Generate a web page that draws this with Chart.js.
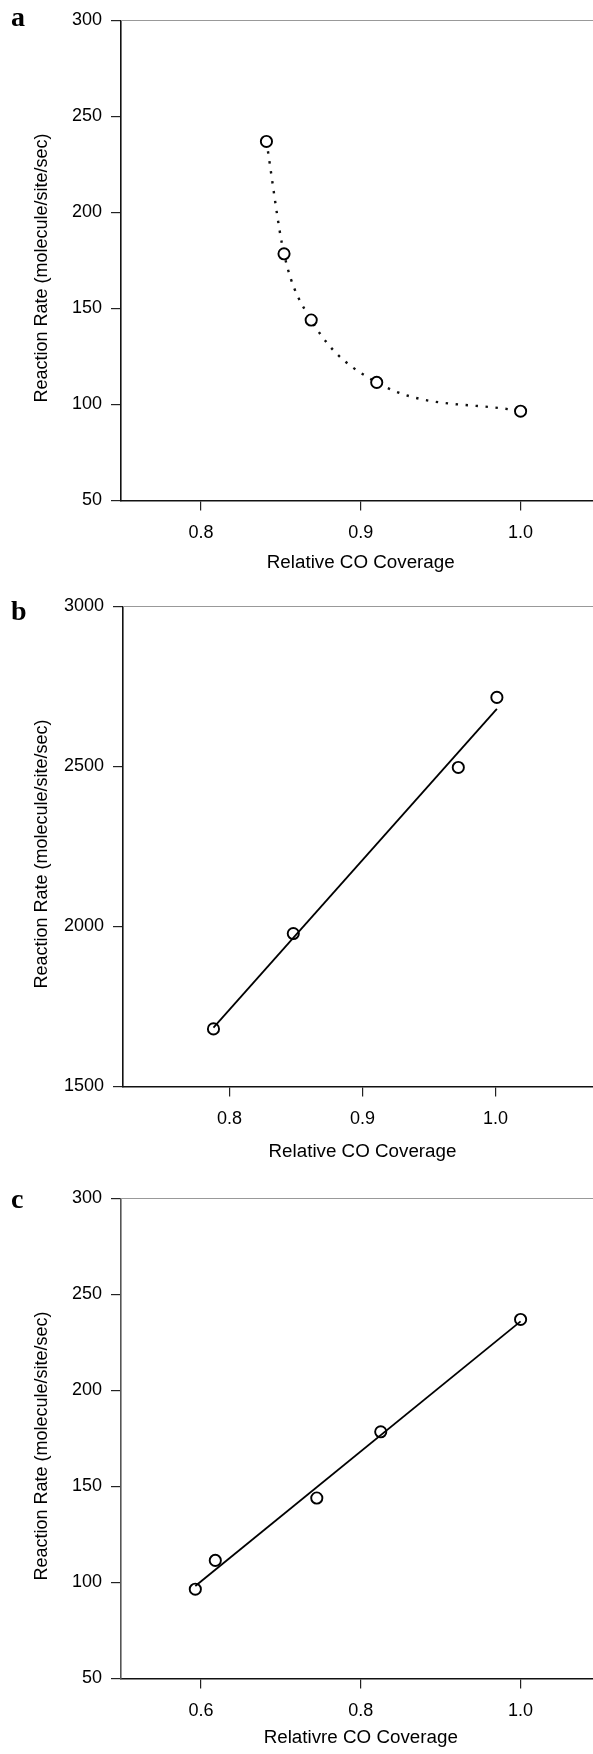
<!DOCTYPE html>
<html><head><meta charset="utf-8">
<script src="https://cdn.jsdelivr.net/npm/chart.js@4"></script>
<style>
html,body{margin:0;padding:0;background:#fff;}
body{width:593px;height:1754px;overflow:hidden;position:relative;}
.panel{position:absolute;left:0;width:620px;}
.panel canvas{display:block;}
.lbl{position:absolute;left:11px;font:bold 28px "Liberation Serif","Times New Roman",serif;line-height:28px;color:#000;}
</style></head><body>
<div class="panel" style="top:0;height:586px"><canvas id="ca" width="620" height="586"></canvas></div>
<div class="panel" style="top:586px;height:592px"><canvas id="cb" width="620" height="592"></canvas></div>
<div class="panel" style="top:1178px;height:576px"><canvas id="cc" width="620" height="576"></canvas></div>
<div class="lbl" style="top:3px">a</div>
<div class="lbl" style="top:597px">b</div>
<div class="lbl" style="top:1185px">c</div>
<script>
// ---- data ----
const coverageA = [0.841, 0.852, 0.869, 0.910, 1.000];
const rateA     = [237, 178.5, 144, 111.5, 96.5];

const coverageB    = [0.788, 0.848, 0.972, 1.001];
const rateB        = [1680, 1978, 2497, 2716];
const fitCoverageB = [0.788, 1.001];
const fitRateB     = [1684, 2680];

const coverageC    = [0.593, 0.618, 0.745, 0.825, 1.000];
const rateC        = [96.5, 111.5, 144, 178.5, 237];
const fitCoverageC = [0.593, 1.000];
const fitRateC     = [98.2, 236];

const xTicksA = [0.8, 0.9, 1.0];
const xTicksB = [0.8, 0.9, 1.0];
const xTicksC = [0.6, 0.8, 1.0];
const yTicksA = [50, 100, 150, 200, 250, 300];
const yTicksB = [1500, 2000, 2500, 3000];
const yTicksC = [50, 100, 150, 200, 250, 300];

const yTitle  = 'Reaction Rate (molecule/site/sec)';
const xTitleA = 'Relative CO Coverage';
const xTitleB = 'Relative CO Coverage';
const xTitleC = 'Relativre CO Coverage';

// ---- helpers ----
const pts = (xs, ys) => xs.map((x, i) => ({x: x, y: ys[i]}));
const FONT = {family: '"Liberation Sans", Arial, Helvetica, sans-serif', size: 18};
const TFONT = {family: '"Liberation Sans", Arial, Helvetica, sans-serif', size: 18.8};
const INK = '#000';

const frameTop = {
  id: 'frameTop',
  beforeDatasetsDraw(chart) {
    const {ctx, chartArea} = chart;
    ctx.save();
    ctx.strokeStyle = '#999';
    ctx.lineWidth = 1.2;
    ctx.beginPath();
    ctx.moveTo(chartArea.left, chartArea.top);
    ctx.lineTo(chartArea.right, chartArea.top);
    ctx.stroke();
    ctx.restore();
  }
};

function makeChart(id, o) {
  new Chart(document.getElementById(id), {
    type: 'scatter',
    data: {datasets: o.datasets},
    options: {
      responsive: false,
      animation: false,
      devicePixelRatio: 1,
      layout: {autoPadding: false, padding: {top: o.top, left: 0, right: o.right, bottom: 0}},
      plugins: {legend: {display: false}, tooltip: {enabled: false}},
      scales: {
        x: {
          type: 'linear', position: 'bottom', min: o.xmin, max: o.xmax,
          afterBuildTicks: s => { s.ticks = o.xticks.map(v => ({value: v})); },
          afterFit: s => { s.height = o.xh; },
          grid: {display: true, drawOnChartArea: false, drawTicks: true, tickLength: 10, color: '#222', lineWidth: 1.2},
          border: {display: true, color: '#111', width: 1.6},
          ticks: {padding: 12, color: INK, font: FONT, maxRotation: 0, autoSkip: false,
                  callback: v => Number(v).toFixed(1)},
          title: {display: true, text: o.xtitle, color: INK, font: TFONT, padding: {top: 0, bottom: o.tb}}
        },
        y: {
          type: 'linear', position: 'left', min: o.ymin, max: o.ymax,
          afterBuildTicks: s => { s.ticks = o.yticks.map(v => ({value: v})); },
          afterFit: s => { s.width = o.left; },
          grid: {display: true, drawOnChartArea: false, drawTicks: true, tickLength: 10, color: '#222', lineWidth: 1.2},
          border: {display: true, color: o.yborder || '#111', width: 1.6},
          ticks: {padding: 9, color: INK, font: FONT, callback: v => String(v)},
          title: {display: true, text: yTitle + '   ', color: INK, font: FONT, padding: {top: 31, bottom: 0}}
        }
      }
    },
    plugins: [frameTop]
  });
}

const pointStyle = {
  pointStyle: 'circle', pointRadius: 5.6, pointBorderWidth: 1.9,
  pointBackgroundColor: '#fff', pointBorderColor: INK
};

// Panel a
makeChart('ca', {
  top: 20.5, right: 19.5, left: 121, xh: 85.5, tb: 12,
  xmin: 0.75, xmax: 1.05, ymin: 50, ymax: 300,
  xticks: xTicksA, yticks: yTicksA, xtitle: xTitleA,
  datasets: [Object.assign({
    data: pts(coverageA, rateA), showLine: true,
    borderColor: '#111', borderWidth: 2.4, borderDash: [2.4, 7.6],
    cubicInterpolationMode: 'monotone'
  }, pointStyle)]
});

// Panel b
makeChart('cb', {
  top: 20.5, right: 18, left: 123, xh: 91.5, tb: 15,
  xmin: 0.72, xmax: 1.08, ymin: 1500, ymax: 3000,
  xticks: xTicksB, yticks: yTicksB, xtitle: xTitleB,
  datasets: [
    {data: pts(fitCoverageB, fitRateB), showLine: true, borderColor: INK, borderWidth: 1.8, pointRadius: 0},
    Object.assign({data: pts(coverageB, rateB), showLine: false}, pointStyle)
  ]
});

// Panel c
makeChart('cc', {
  top: 20.5, right: 19.5, left: 121, xh: 75.5, tb: 5, yborder: '#555',
  xmin: 0.5, xmax: 1.1, ymin: 50, ymax: 300,
  xticks: xTicksC, yticks: yTicksC, xtitle: xTitleC,
  datasets: [
    {data: pts(fitCoverageC, fitRateC), showLine: true, borderColor: INK, borderWidth: 1.8, pointRadius: 0},
    Object.assign({data: pts(coverageC, rateC), showLine: false}, pointStyle)
  ]
});
</script>
</body></html>
